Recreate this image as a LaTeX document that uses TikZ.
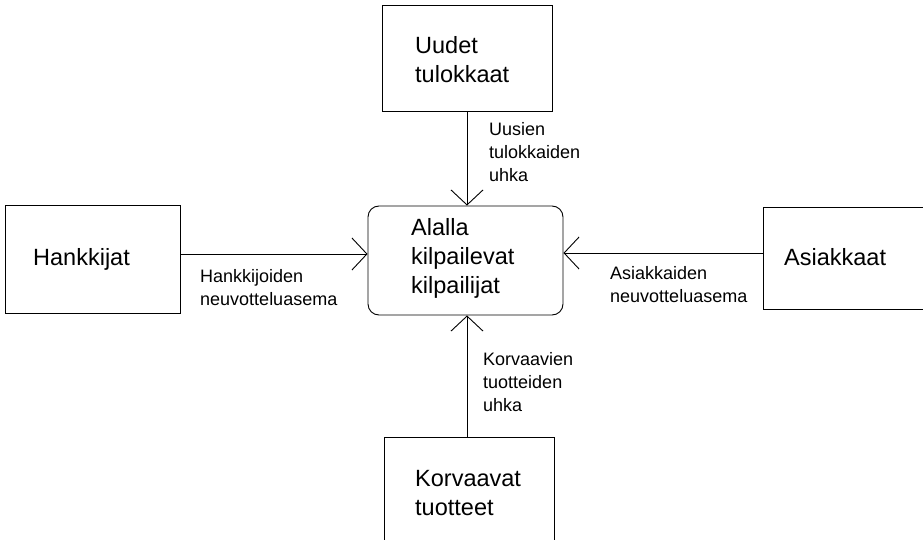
\documentclass[tikz,border=0pt]{standalone}
\usepackage{fontspec}
\setmainfont{Liberation Sans}
\usetikzlibrary{arrows.meta}
\begin{document}
\begin{tikzpicture}[x=1pt,y=-1pt,
  box/.style={draw,line width=0.9pt,rectangle,inner sep=0pt},
  rbox/.style={draw,line width=0.9pt,rectangle,rounded corners=11pt,inner sep=0pt},
  bigtxt/.style={anchor=base west,inner sep=0pt,font=\fontsize{23.5}{29}\selectfont,align=left},
  smalltxt/.style={anchor=base west,inner sep=0pt,font=\fontsize{18}{23}\selectfont,align=left},
  flow/.style={line width=0.9pt,-{Straight Barb[length=15pt,width=32pt,line width=0.9pt]}}]
\clip (0,0) rectangle (923,540);
% boxes
\node[box,minimum width=170pt,minimum height=106pt] (top) at (467,58) {};
\node[box,minimum width=175pt,minimum height=108pt] (left) at (92.5,259) {};
\node[box,minimum width=172pt,minimum height=102pt] (right) at (849,258) {};
\node[box,minimum width=170pt,minimum height=130pt] (bottom) at (469,502) {};
\node[rbox,minimum width=195pt,minimum height=109pt] (center) at (465.5,260.5) {};
% box texts (positioned at the baseline of the last line)
\node[bigtxt] (ttop) at (415,83) {Uudet\\tulokkaat};
\node[bigtxt] (tleft) at (33,265) {Hankkijat};
\node[bigtxt] (tright) at (784,265) {Asiakkaat};
\node[bigtxt] (tbottom) at (415,515) {Korvaavat\\tuotteet};
\node[bigtxt] (tcenter) at (411,293) {Alalla\\kilpailevat\\kilpailijat};
% connectors
\draw[flow] (top.south -| 467,0) -- (center.north -| 467,0);
\draw[flow] (bottom.north -| 467,0) -- (center.south -| 467,0);
\draw[flow] (left.east |- 0,254) -- (center.west |- 0,254);
\draw[flow] (right.west |- 0,253) -- (center.east |- 0,253);
% labels
\node[smalltxt] (ltop) at (489,182) {Uusien\\tulokkaiden\\uhka};
\node[smalltxt] (lbottom) at (483,411) {Korvaavien\\tuotteiden\\uhka};
\node[smalltxt] (lleft) at (200,305) {Hankkijoiden\\neuvotteluasema};
\node[smalltxt] (lright) at (610,302) {Asiakkaiden\\neuvotteluasema};
\end{tikzpicture}
\end{document}
